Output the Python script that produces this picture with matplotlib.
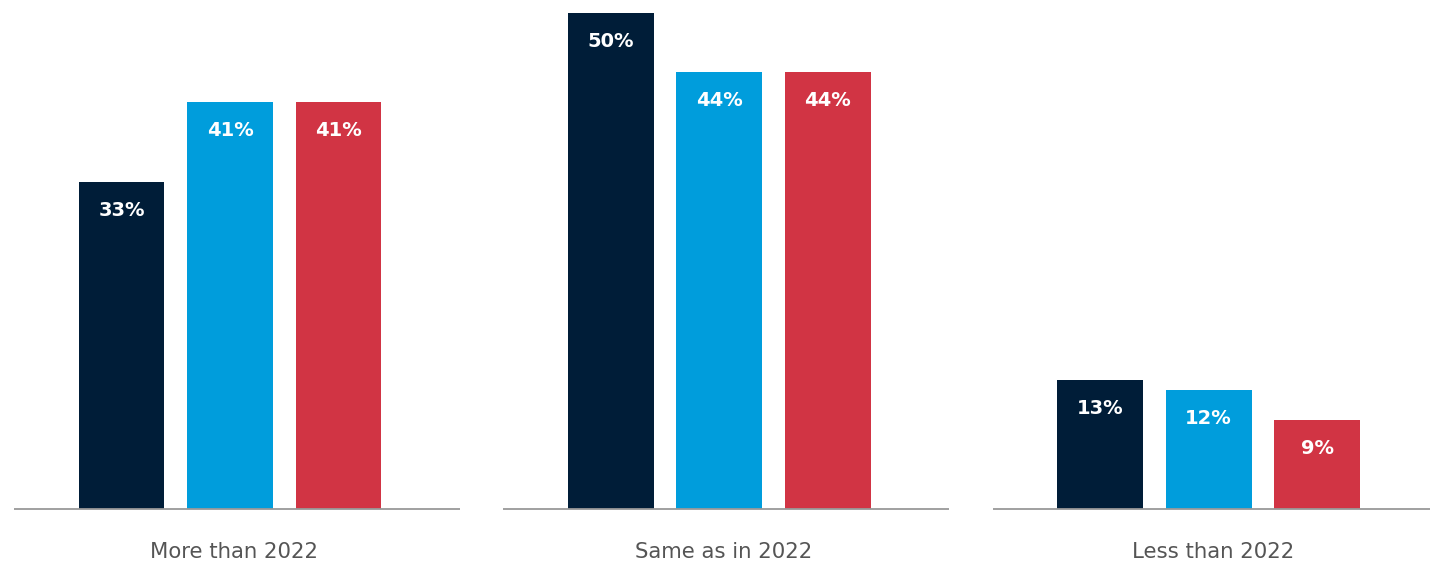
import matplotlib
matplotlib.use("Agg")
import matplotlib.pyplot as plt
import numpy as np

# survey answers, three series per group
groups = ['More than 2022', 'Same as in 2022', 'Less than 2022']
series_a = [33, 50, 13]
series_b = [41, 44, 12]
series_c = [41, 44, 9]
colors = ['#001d38', '#009ddc', '#d13444']

group_gap = 4.51
bar_w = 0.79

fig = plt.figure(figsize=(14.3, 5.64), dpi=100)
ax = fig.add_axes([0, 55 / 564, 1, 509 / 564])
ax.set_xlim(-2.12, 11.06)
ax.set_ylim(0, 51.3)
ax.axis('off')

centers = np.arange(len(groups)) * group_gap
for i, (vals, col) in enumerate(zip([series_a, series_b, series_c], colors)):
    xs = centers + (i - 1)
    ax.bar(xs, vals, width=bar_w, color=col, zorder=2)
    for x, v in zip(xs, vals):
        ax.annotate(f'{v}%', (x, v), xytext=(0, -20.5), textcoords='offset points',
                    ha='center', va='center', color='white', fontsize=14,
                    fontweight='bold', fontfamily='DejaVu Sans')

# separate baseline under each group, plus the group name
for c, name in zip(centers, groups):
    ax.plot([c - 1.99, c + 2.12], [0, 0], color='#999999', lw=1.3,
            solid_capstyle='butt', zorder=3, clip_on=False)
    ax.annotate(name, (c + 0.04, 0), xytext=(0, -31), textcoords='offset points',
                ha='center', va='center', color='#555555', fontsize=15.3,
                fontfamily='DejaVu Sans')

fig.savefig('out.png', dpi=100)
